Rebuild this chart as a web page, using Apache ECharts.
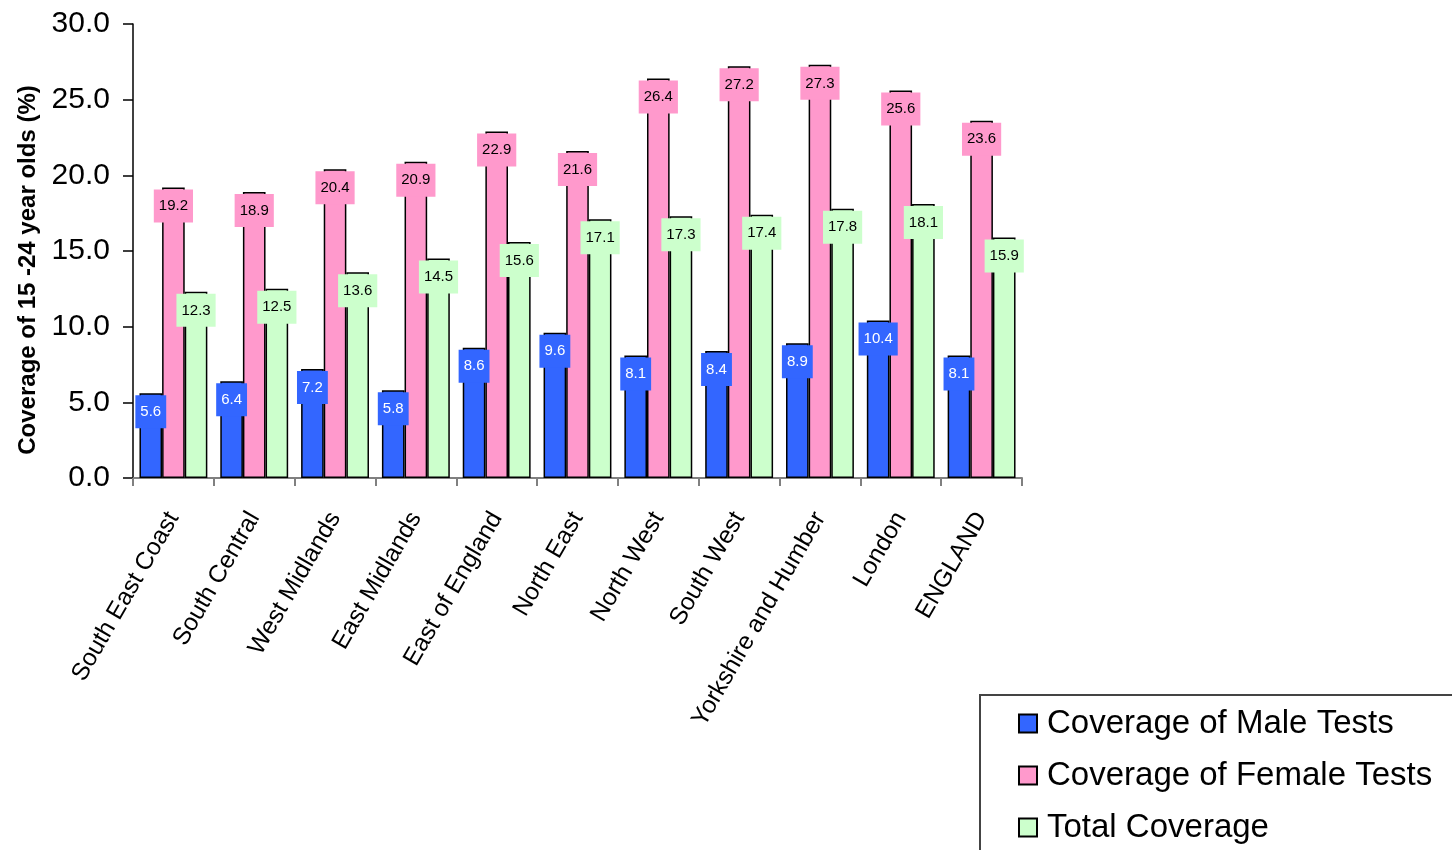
<!DOCTYPE html>
<html>
<head>
<meta charset="utf-8">
<script src="https://cdn.jsdelivr.net/npm/echarts@6/dist/echarts.min.js"></script>
<style>
html,body{margin:0;padding:0;background:#fff;}
#chart{width:1452px;height:850px;}
</style>
</head>
<body>
<div id="chart"></div>
<script>
const categories = ["South East Coast","South Central","West Midlands","East Midlands","East of England","North East","North West","South West","Yorkshire and Humber","London","ENGLAND"];
const maleCoverage = [5.6, 6.4, 7.2, 5.8, 8.6, 9.6, 8.1, 8.4, 8.9, 10.4, 8.1];
const femaleCoverage = [19.2, 18.9, 20.4, 20.9, 22.9, 21.6, 26.4, 27.2, 27.3, 25.6, 23.6];
const totalCoverage = [12.3, 12.5, 13.6, 14.5, 15.6, 17.1, 17.3, 17.4, 17.8, 18.1, 15.9];
const seriesNames = ["Coverage of Male Tests","Coverage of Female Tests","Total Coverage"];
const yTicks = {min: 0, max: 30, interval: 5};

const FONT = '"Liberation Sans", Arial, sans-serif';
const colors = ['#3366ff', '#ff99cc', '#ccffcc'];
const labelColors = ['#ffffff', '#000000', '#000000'];
const dataSets = [maleCoverage, femaleCoverage, totalCoverage];

const chart = echarts.init(document.getElementById('chart'));
chart.setOption({
  animation: false,
  backgroundColor: '#ffffff',
  textStyle: {fontFamily: FONT},
  grid: {left: 133, top: 24, right: 430, bottom: 372, containLabel: false},
  legend: {
    orient: 'vertical',
    left: 980, top: 695, height: 400, width: 600,
    data: seriesNames,
    itemWidth: 18, itemHeight: 18, itemGap: 19,
    padding: [12, 60, 40, 38],
    borderColor: '#444', borderWidth: 2,
    textStyle: {fontFamily: FONT, fontSize: 33, color: '#000', padding: [0,0,0,5]},
    icon: 'rect'
  },
  xAxis: {
    type: 'category',
    data: categories,
    axisLine: {lineStyle: {color: '#808080', width: 2}},
    axisTick: {show: true, length: 8, lineStyle: {color: '#808080', width: 2}},
    axisLabel: {rotate: 60, margin: 36, fontSize: 24.5, color: '#000', fontFamily: FONT, interval: 0}
  },
  yAxis: {
    type: 'value',
    min: yTicks.min, max: yTicks.max, interval: yTicks.interval,
    name: 'Coverage of 15 -24 year olds (%)',
    nameLocation: 'middle', nameRotate: 90, nameGap: 93,
    nameTextStyle: {fontSize: 24, fontWeight: 'bold', color: '#000', fontFamily: FONT, padding: [0, 38, 0, 0]},
    axisLine: {show: true, lineStyle: {color: '#000', width: 1.5}},
    axisTick: {show: true, inside: false, length: 10, lineStyle: {color: '#000', width: 1.5}},
    splitLine: {show: false},
    axisLabel: {fontSize: 30, color: '#000', margin: 23, fontFamily: FONT,
      formatter: v => v.toFixed(1)}
  },
  series: seriesNames.map((name, i) => ({
    name: name,
    type: 'bar',
    data: dataSets[i],
    barGap: '0%',
    barCategoryGap: '16%',
    itemStyle: {color: colors[i], borderColor: '#000', borderWidth: 1.5},
    label: {
      show: true,
      position: 'insideTop',
      distance: 2,
      fontSize: 15,
      fontFamily: FONT,
      color: labelColors[i],
      backgroundColor: colors[i],
      padding: [9, 5],
      formatter: p => p.value.toFixed(1)
    }
  }))
});
</script>
</body>
</html>
